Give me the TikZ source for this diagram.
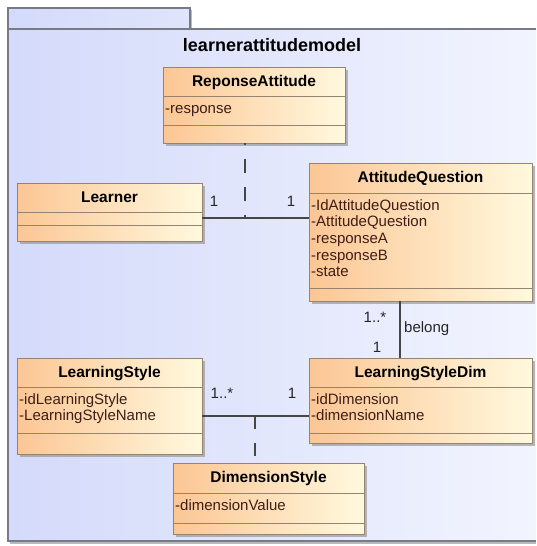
\documentclass[tikz,border=0pt]{standalone}
\usepackage{fontspec}
\setmainfont{Liberation Sans}
\usetikzlibrary{shadows}

\definecolor{pkgL}{RGB}{212,218,250}
\definecolor{pkgR}{RGB}{242,244,254}
\definecolor{pkgLine}{RGB}{120,122,134}
\definecolor{clsL}{RGB}{252,198,148}
\definecolor{clsR}{RGB}{255,249,222}
\definecolor{clsLine}{RGB}{150,132,112}
\definecolor{attrText}{RGB}{62,30,22}
\definecolor{wire}{RGB}{70,70,70}

\tikzset{
  pkgtab/.style={draw=pkgLine, line width=1.1pt, left color=pkgL, right color=pkgL!60!pkgR,
    drop shadow={shadow xshift=2pt, shadow yshift=-2pt, fill=black!45, opacity=0.6}},
  pkgfill/.style={left color=pkgL, right color=pkgR},
  pkgline/.style={draw=pkgLine, line width=1.1pt},
  pkgshadow/.style={draw=black!45, opacity=0.6, line width=2pt},
  classbox/.style={draw=clsLine, line width=0.9pt, left color=clsL, right color=clsR,
    inner sep=0pt, outer sep=0pt,
    drop shadow={shadow xshift=3pt, shadow yshift=-3pt, fill=black!45, opacity=0.6}},
  divline/.style={draw=clsLine, line width=0.9pt},
  classtitle/.style={font=\fontsize{15.5}{18}\selectfont\bfseries, text=black, inner sep=0pt},
  attr/.style={font=\fontsize{15}{16.7}\selectfont, text=attrText, inner sep=0pt},
  mult/.style={font=\fontsize{15}{17}\selectfont, text=black!85, inner sep=0pt},
  assoc/.style={draw=wire, line width=1.1pt},
  dep/.style={draw=wire, line width=1.1pt, dash pattern=on 14pt off 14pt},
}

% class box: name, x1, y1, x2, y2, first divider, second divider, title
\newcommand\umlclass[8]{%
  \node[classbox, minimum width={#4-#2}, minimum height={#5-#3}] (#1)
    at ({(#2+#4)/2},{(#3+#5)/2}) {};
  \draw[divline] (#2,#6) -- (#4,#6);
  \draw[divline] (#2,#7) -- (#4,#7);
  \node[classtitle, anchor=base] (#1-title) at ({(#2+#4)/2},{#3+19}) {#8};
}
% attribute lines: name, left x, first divider, list
\newcommand\umlattrs[4]{%
  \foreach \a [count=\i] in {#4}
    \node[attr, anchor=base west] (#1-attr\i) at ({#2+2},{#3+17+(\i-1)*16.7}) {\a};
}

\begin{document}
\begin{tikzpicture}[x=1pt, y=-1pt]
  \useasboundingbox (0,0) rectangle (536,546);
  \clip (0,0) rectangle (536,546);

  % package with its tab; the body runs on past the right edge
  \draw[pkgtab] (8,8) rectangle (190,29);
  \draw[pkgshadow] (10,543) -- (536,543);
  \fill[pkgfill] (8,29) rectangle (536,541);
  \draw[pkgline] (536,29) -- (8,29) -- (8,541) -- (536,541);
  \node[font=\fontsize{18}{20}\selectfont\bfseries, inner sep=0pt, anchor=base] (pkgname)
    at (272,51) {learnerattitudemodel};

  % classes
  \umlclass{ra}{163}{67}{345}{143}{96}{125}{ReponseAttitude}
  \umlattrs{ra}{163}{96}{-response}

  \umlclass{learner}{17}{183}{202}{241}{212}{225}{Learner}

  \umlclass{aq}{309}{163}{532}{301}{193}{288}{AttitudeQuestion}
  \umlattrs{aq}{309}{193}{-IdAttitudeQuestion,-AttitudeQuestion,-responseA,-responseB,-state}

  \umlclass{ls}{17}{358}{202}{454}{387}{433}{LearningStyle}
  \umlattrs{ls}{17}{387}{-idLearningStyle,-LearningStyleName}

  \umlclass{lsd}{309}{358}{532}{443}{387}{433}{LearningStyleDim}
  \umlattrs{lsd}{309}{387}{-idDimension,-dimensionName}

  \umlclass{ds}{173}{463}{364}{534}{493}{523}{DimensionStyle}
  \umlattrs{ds}{173}{493}{-dimensionValue}

  % association Learner -- AttitudeQuestion with its class ReponseAttitude
  \coordinate (j1) at (245,218);
  \draw[assoc] (learner.east |- j1) -- (aq.west |- j1);
  \draw[dep, dash phase=11pt] (j1) -- (ra.south -| j1);
  \node[mult, anchor=base] (m1) at (214,206) {1};
  \node[mult, anchor=base] (m2) at (291,206) {1};

  % association AttitudeQuestion -- LearningStyleDim
  \coordinate (j3) at (400,330);
  \draw[assoc] (aq.south -| j3) -- (lsd.north -| j3);
  \node[mult, anchor=base] (m3) at (375,322) {1..*};
  \node[mult, anchor=base west] (belong) at (404,332) {belong};
  \node[mult, anchor=base] (m4) at (377,352) {1};

  % association LearningStyle -- LearningStyleDim with its class DimensionStyle
  \coordinate (j2) at (255,416);
  \draw[assoc] (ls.east |- j2) -- (lsd.west |- j2);
  \draw[dep, dash pattern=on 13pt off 14pt] (j2) -- (ds.north -| j2);
  \node[mult, anchor=base] (m5) at (222,398) {1..*};
  \node[mult, anchor=base] (m6) at (292,398) {1};
\end{tikzpicture}
\end{document}
